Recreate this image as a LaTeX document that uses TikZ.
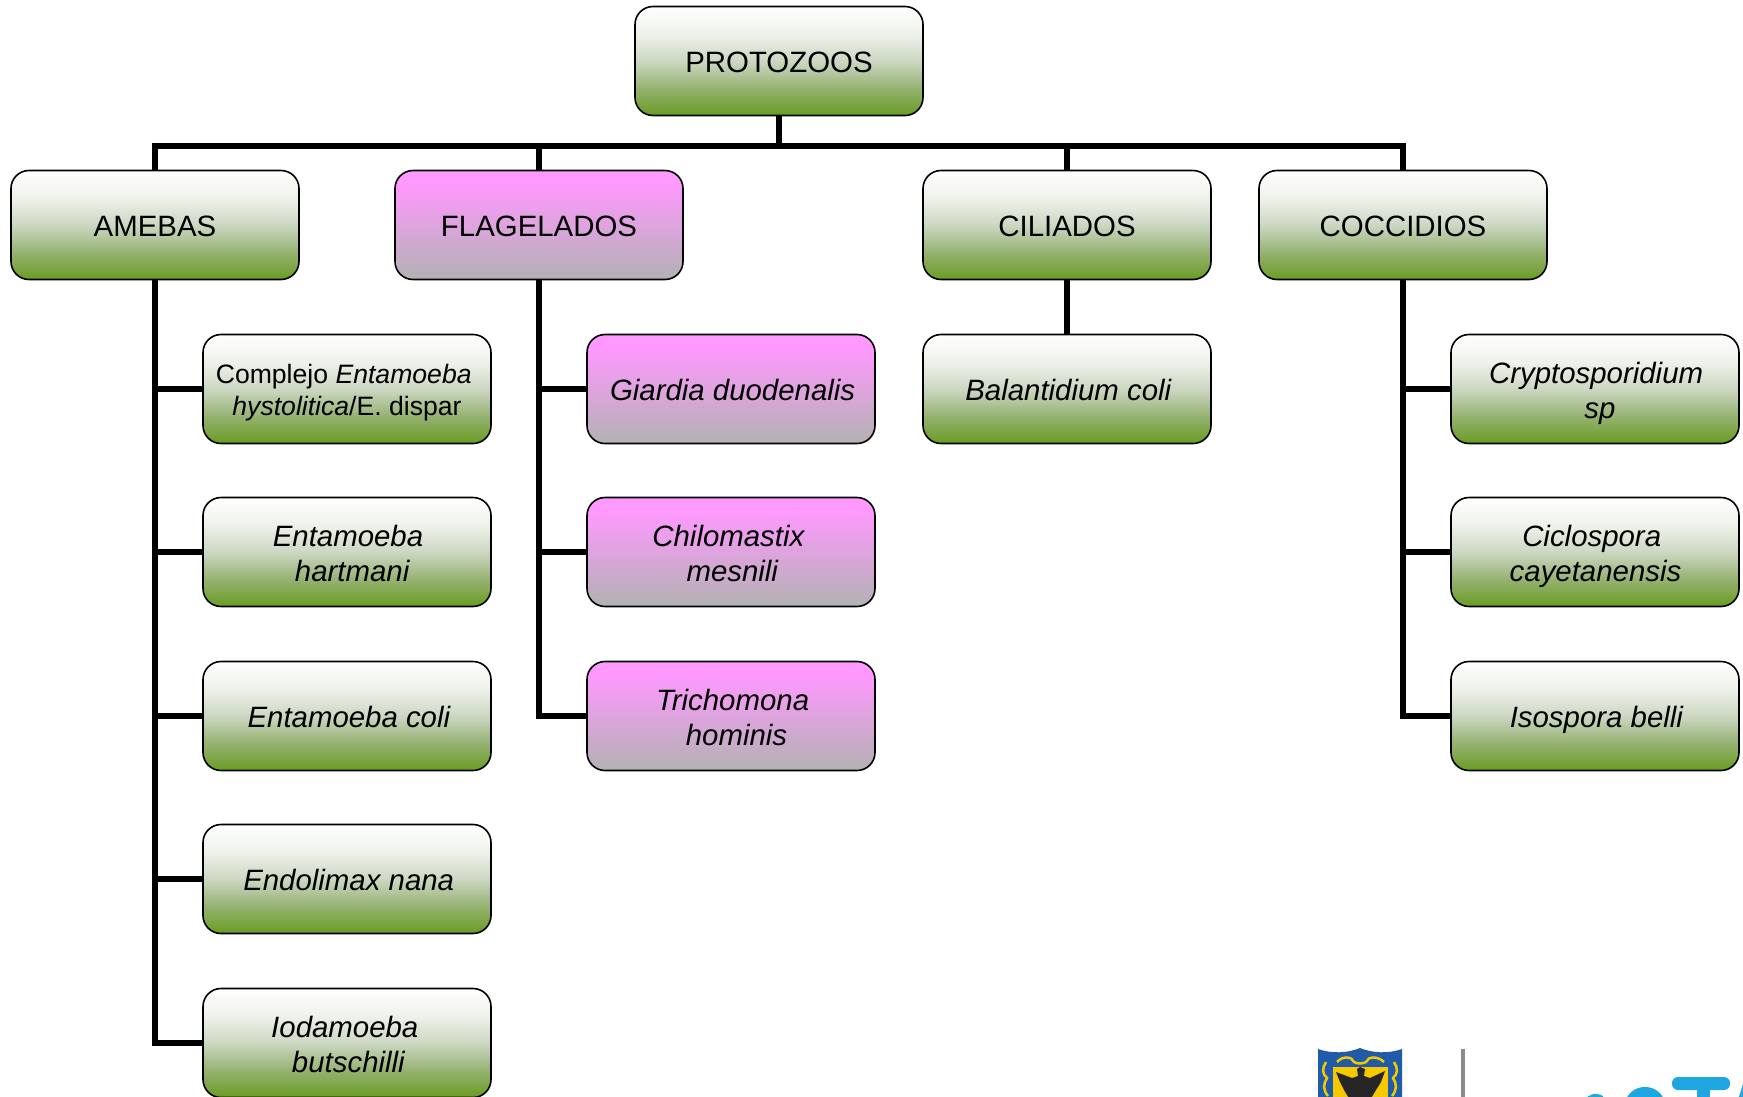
\documentclass[tikz,border=0pt]{standalone}
\usepackage{fontspec}
\setmainfont{Liberation Sans}
\definecolor{grnT}{HTML}{FFFFFF}
\definecolor{grnA}{HTML}{EFF2EB}
\definecolor{grnM}{HTML}{CCD7C2}
\definecolor{grnC}{HTML}{95B272}
\definecolor{grnB}{HTML}{6A9C22}
\definecolor{pnkT}{HTML}{FF99FF}
\definecolor{pnkB}{HTML}{B2B2B2}
\definecolor{shieldblue}{HTML}{1F5BA8}
\definecolor{shieldgold}{HTML}{F5C800}
\definecolor{logosky}{HTML}{1FA5DF}
\definecolor{logogrey}{HTML}{8A8A8A}
\pgfdeclareverticalshading{grnshade}{100bp}{color(0bp)=(grnB); color(25bp)=(grnB); color(37.5bp)=(grnC); color(50bp)=(grnM); color(62.5bp)=(grnA); color(75bp)=(grnT); color(100bp)=(grnT)}
\pgfdeclareverticalshading{pnkshade}{100bp}{color(0bp)=(pnkB); color(25bp)=(pnkB); color(69bp)=(pnkT); color(100bp)=(pnkT)}
\newcommand{\oneline}[2]{\hspace*{#1pt}\rule[-7pt]{0pt}{36pt}#2}
\newcommand{\twolines}[4]{\hspace*{#1pt}\rule{0pt}{31pt}#2\\\hspace*{#3pt}\rule[-7pt]{0pt}{0pt}#4}
\tikzset{
 x=1pt,y=-1pt,
 basebox/.style={draw=black,line width=1.6pt,rounded corners=18pt,minimum width=288pt,minimum height=109pt,inner sep=0pt,align=center,font=\fontsize{29.4}{35}\selectfont},
 grnbox/.style={basebox,shading=grnshade},
 pnkbox/.style={basebox,shading=pnkshade},
 link/.style={draw=black,line width=6pt},
}
\begin{document}
\begin{tikzpicture}
\useasboundingbox (0,0) rectangle (1743,1096);
\node[grnbox] (root) at (779,61) {\oneline{0}{PROTOZOOS}};
\coordinate (bus) at (779,146.2);
\node[grnbox] (ame) at (155,225) {\oneline{0}{AMEBAS}};
\node[pnkbox] (fla) at (539,225) {\oneline{0}{FLAGELADOS}};
\node[grnbox] (cil) at (1067,225) {\oneline{0}{CILIADOS}};
\node[grnbox] (coc) at (1403,225) {\oneline{0}{COCCIDIOS}};
\node[grnbox,font=\fontsize{26.6}{32}\selectfont] (a1) at (347,389) {\hspace*{-6.6pt}\rule{0pt}{27pt}Complejo \textit{Entamoeba}\\\rule[-7pt]{0pt}{0pt}\textit{hystolitica}/E. dispar};
\node[grnbox] (a2) at (347,552) {\twolines{2}{\textit{Entamoeba}}{11}{\textit{hartmani}}};
\node[grnbox] (a3) at (347,716) {\oneline{4.4}{\textit{Entamoeba coli}}};
\node[grnbox] (a4) at (347,879) {\oneline{3.4}{\textit{Endolimax nana}}};
\node[grnbox] (a5) at (347,1043) {\twolines{-4.4}{\textit{Iodamoeba}}{3.4}{\textit{butschilli}}};
\node[pnkbox] (f1) at (731,389) {\oneline{3.2}{\textit{Giardia duodenalis}}};
\node[pnkbox] (f2) at (731,552) {\twolines{-4.4}{\textit{Chilomastix}}{3.2}{\textit{mesnili}}};
\node[pnkbox] (f3) at (731,716) {\twolines{3.2}{\textit{Trichomona}}{11}{\textit{hominis}}};
\node[grnbox] (c1) at (1067,389) {\oneline{3.2}{\textit{Balantidium coli}}};
\node[grnbox] (k1) at (1595,389) {\twolines{2.2}{\textit{Cryptosporidium}}{10}{\textit{sp}}};
\node[grnbox] (k2) at (1595,552) {\twolines{-6.6}{\textit{Ciclospora}}{1}{\textit{cayetanensis}}};
\node[grnbox] (k3) at (1595,716) {\oneline{3.4}{\textit{Isospora belli}}};
\draw[link] (root.south) -- (bus);
\draw[link] (bus) -| (ame.north);
\draw[link] (bus) -| (fla.north);
\draw[link] (bus) -| (cil.north);
\draw[link] (bus) -| (coc.north);
\draw[link] (ame.south) |- (a1.west);
\draw[link] (ame.south) |- (a2.west);
\draw[link] (ame.south) |- (a3.west);
\draw[link] (ame.south) |- (a4.west);
\draw[link] (ame.south) |- (a5.west);
\draw[link] (fla.south) |- (f1.west);
\draw[link] (fla.south) |- (f2.west);
\draw[link] (fla.south) |- (f3.west);
\draw[link] (cil.south) -- (c1.north);
\draw[link] (coc.south) |- (k1.west);
\draw[link] (coc.south) |- (k2.west);
\draw[link] (coc.south) |- (k3.west);
% logo fragment at the lower edge
\begin{scope}
\clip (0,0) rectangle (1743,1096);
\fill[shieldblue] (1318,1049) .. controls (1332,1054) and (1348,1053) .. (1360,1048) .. controls (1372,1053) and (1388,1054) .. (1402,1049) -- (1402,1100) -- (1318,1100) -- cycle;
\fill[shieldgold] (1333,1067) rectangle (1388,1100);
\draw[shieldgold,line width=2.5pt] (1337,1062) .. controls (1342,1056) and (1352,1056) .. (1354,1062) .. controls (1358,1064) and (1362,1064) .. (1366,1062) .. controls (1368,1056) and (1378,1056) .. (1384,1062);
\draw[shieldgold,line width=2.5pt] (1326,1062) .. controls (1322,1068) and (1322,1074) .. (1327,1078) .. controls (1323,1084) and (1323,1090) .. (1328,1096);
\draw[shieldgold,line width=2.5pt] (1394,1062) .. controls (1398,1068) and (1398,1074) .. (1393,1078) .. controls (1397,1084) and (1397,1090) .. (1392,1096);
\fill[black!85] (1357,1069) -- (1360,1067) -- (1365,1069) -- (1364,1076) -- (1370,1078) -- (1385,1071) -- (1381,1082) -- (1376,1090) -- (1370,1100) -- (1350,1100) -- (1344,1090) -- (1340,1082) -- (1336,1072) -- (1352,1078) -- (1358,1076) -- cycle;
\fill[logogrey] (1460.5,1049) rectangle (1464.5,1100);
\fill[logosky,rounded corners=6pt] (1672,1077) rectangle (1730,1090);
\fill[logosky] (1697,1085) rectangle (1710,1100);
\draw[logosky,line width=10pt] (1628,1110) .. controls (1630,1096) and (1638,1092) .. (1645,1092) .. controls (1652,1092) and (1660,1096) .. (1662,1110);
\fill[logosky] (1585,1100) .. controls (1588,1094) and (1596,1092) .. (1603,1096) -- (1603,1100) -- cycle;
\fill[logosky] (1743,1084) -- (1738,1100) -- (1743,1100) -- cycle;
\end{scope}
\end{tikzpicture}
\end{document}
